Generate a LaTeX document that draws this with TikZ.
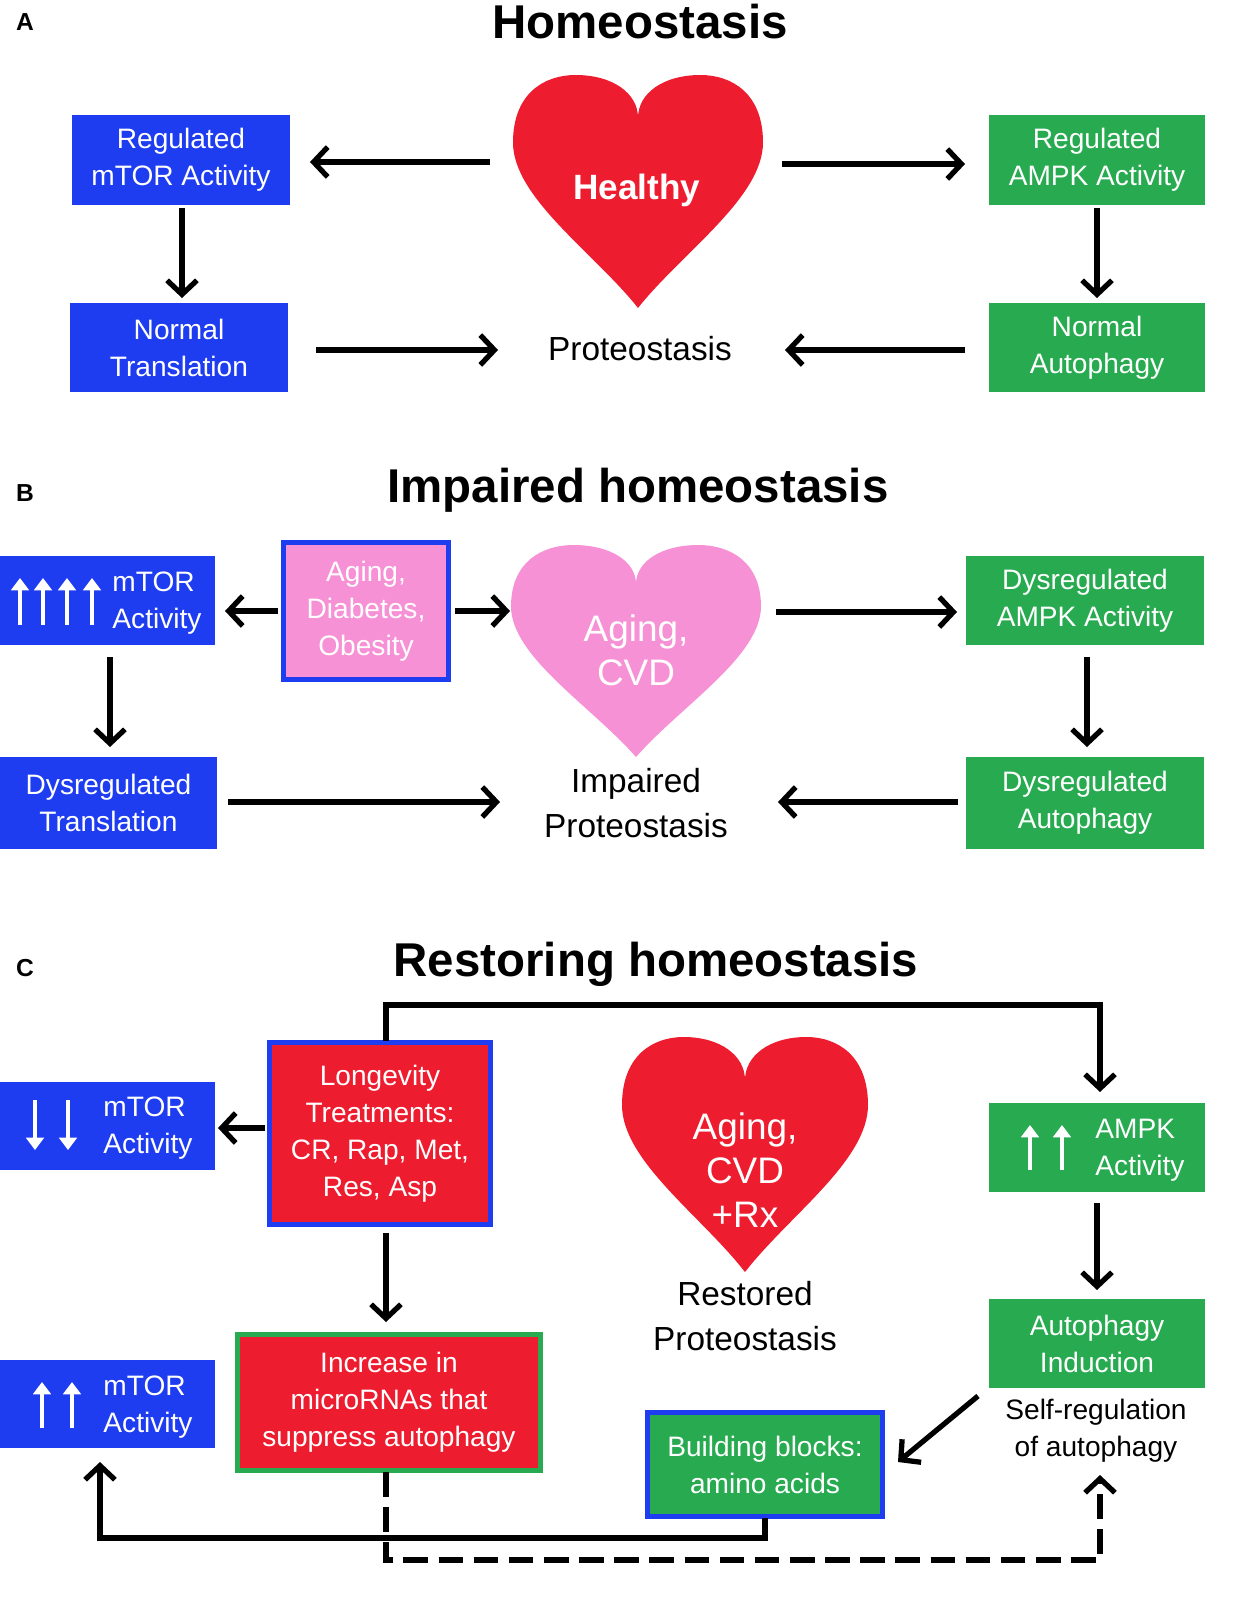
\documentclass[tikz,border=0pt]{standalone}
\usepackage{fontspec}
\setmainfont{Liberation Sans}
\usetikzlibrary{arrows.meta}
\definecolor{bblue}{RGB}{30,60,240}
\definecolor{bgreen}{RGB}{40,170,80}
\definecolor{bred}{RGB}{237,28,46}
\definecolor{bpink}{RGB}{247,145,214}
\tikzset{
 box/.style={rectangle,inner sep=0pt,align=center,text=white,font=\fontsize{16}{21}\selectfont},
 bx/.style={box,fill=bblue},
 gx/.style={box,fill=bgreen},
 arr/.style={line width=3pt,-{Straight Barb[length=8pt,width=17pt,line width=3pt]}},
 warr/.style={white,line width=2.6pt,-{Triangle[length=7pt,width=10pt]}},
 ttl/.style={font=\bfseries\fontsize{27}{30}\selectfont},
 lab/.style={font=\bfseries\fontsize{14}{16}\selectfont},
 ptxt/.style={align=center,font=\fontsize{19}{26}\selectfont},
 htxt/.style={align=center,text=white,font=\fontsize{21}{25}\selectfont},
}
\newcommand\heartpath{(0,1.9) .. controls (-0.35,1.45) and (-1,1.0) .. (-1,0.55) .. controls (-1,0.15) and (-0.75,0) .. (-0.5,0) .. controls (-0.2,0) and (0,0.15) .. (0,0.35) .. controls (0,0.15) and (0.2,0) .. (0.5,0) .. controls (0.75,0) and (1,0.15) .. (1,0.55) .. controls (1,1.0) and (0.35,1.45) .. (0,1.9) -- cycle}
\begin{document}
\begin{tikzpicture}[x=0.02cm,y=-0.02cm]
\useasboundingbox (0,0) rectangle (1245,1617);
% ---------- A
\node[lab] (la) at (25,22) {A};
\node[ttl] (ta) at (640,22) {Homeostasis};
\begin{scope}[shift={(638,75)},xscale=125,yscale=122.6]
\fill[bred] \heartpath;
\end{scope}
\node[htxt,font=\bfseries\fontsize{20}{24}\selectfont] (hA) at (637,190) {Healthy};
\node[bx,minimum width=4.36cm,minimum height=1.8cm] (a1) at (181,160) {Regulated\\mTOR Activity};
\node[bx,minimum width=4.36cm,minimum height=1.78cm] (a2) at (179,347.5) {Normal\\Translation};
\node[gx,minimum width=4.32cm,minimum height=1.8cm] (a3) at (1097,160) {Regulated\\AMPK Activity};
\node[gx,minimum width=4.32cm,minimum height=1.78cm] (a4) at (1097,347.5) {Normal\\Autophagy};
\node[ptxt] (pA) at (640,349) {Proteostasis};
\coordinate (hAl) at (490,162); \coordinate (hAr) at (782,164);
\coordinate (a1e) at (310,162); \coordinate (a3e) at (965,164);
\draw[arr] (hAl) -- (a1e);
\draw[arr] (hAr) -- (a3e);
\coordinate (a1s) at (182,208); \coordinate (a2n) at (182,298);
\coordinate (a3s) at (1097,208); \coordinate (a4n) at (1097,298);
\draw[arr] (a1s) -- (a2n);
\draw[arr] (a3s) -- (a4n);
\coordinate (a2e) at (316,350); \coordinate (pAw) at (498,350);
\coordinate (a4w) at (965,350); \coordinate (pAe) at (785,350);
\draw[arr] (a2e) -- (pAw);
\draw[arr] (a4w) -- (pAe);
% ---------- B
\node[lab] (lb) at (25,493) {B};
\node[ttl] (tb) at (638,490) {Impaired homeostasis};
\begin{scope}[shift={(636,545)},xscale=125,yscale=111.6]
\fill[bpink] \heartpath;
\end{scope}
\node[htxt] (hB) at (636,650) {Aging,\\CVD};
\node[bx,minimum width=4.3cm,minimum height=1.78cm] (b1) at (107.5,600.5) {};
\foreach \xx in {20,43,67,92} \draw[warr] (\xx,625) -- (\xx,578);
\node[box,align=left] (b1t) at (157,603) {mTOR\\Activity};
\node[box,fill=bpink,draw=bblue,line width=2.6pt,minimum width=3.3cm,minimum height=2.74cm] (bp) at (366,611) {Aging,\\Diabetes,\\Obesity};
\node[gx,minimum width=4.76cm,minimum height=1.78cm] (b3) at (1085,600.5) {Dysregulated\\AMPK Activity};
\node[bx,minimum width=4.34cm,minimum height=1.84cm] (b4) at (108.5,803) {Dysregulated\\Translation};
\node[gx,minimum width=4.76cm,minimum height=1.84cm] (b5) at (1085,803) {Dysregulated\\Autophagy};
\node[ptxt] (pB) at (636,803) {Impaired\\Proteostasis};
\coordinate (bpw) at (278,611); \coordinate (b1e) at (225,611);
\coordinate (bpe) at (455,611); \coordinate (hBw) at (510,611);
\coordinate (hBe) at (776,612); \coordinate (b3w) at (957,612);
\draw[arr] (bpw) -- (b1e);
\draw[arr] (bpe) -- (hBw);
\draw[arr] (hBe) -- (b3w);
\coordinate (b1s) at (110,657); \coordinate (b4n) at (110,747);
\coordinate (b3s) at (1087,657); \coordinate (b5n) at (1087,747);
\draw[arr] (b1s) -- (b4n);
\draw[arr] (b3s) -- (b5n);
\coordinate (b4e) at (228,802); \coordinate (pBw) at (500,802);
\coordinate (b5w) at (958,802); \coordinate (pBe) at (778,802);
\draw[arr] (b4e) -- (pBw);
\draw[arr] (b5w) -- (pBe);
% ---------- C
\node[lab] (lc) at (25,968) {C};
\node[ttl] (tc) at (656,964) {Restoring homeostasis};
\begin{scope}[shift={(745,1037)},xscale=123,yscale=123.7]
\fill[bred] \heartpath;
\end{scope}
\node[htxt] (hC) at (745,1170) {Aging,\\CVD\\+Rx};
\node[ptxt] (pC) at (745,1316) {Restored\\Proteostasis};
\node[bx,minimum width=4.3cm,minimum height=1.76cm] (c1) at (107.5,1126) {};
\foreach \xx in {35,68} \draw[warr] (\xx,1100) -- (\xx,1150);
\node[box,align=left] (c1t) at (148,1128) {mTOR\\Activity};
\node[box,fill=bred,draw=bblue,line width=2.6pt,minimum width=4.42cm,minimum height=3.64cm] (lt) at (380,1133.5) {Longevity\\Treatments:\\CR, Rap, Met,\\Res, Asp};
\node[gx,minimum width=4.32cm,minimum height=1.78cm] (c3) at (1097,1147.5) {};
\foreach \xx in {1030,1062} \draw[warr] (\xx,1170) -- (\xx,1125);
\node[box,align=left] (c3t) at (1140,1150) {AMPK\\Activity};
\node[gx,minimum width=4.32cm,minimum height=1.78cm] (c4) at (1097,1343.5) {Autophagy\\Induction};
\node[ptxt,font=\fontsize{16}{21}\selectfont] (sr) at (1096,1431) {Self-regulation\\of autophagy};
\node[bx,minimum width=4.3cm,minimum height=1.76cm] (c5) at (107.5,1404) {};
\foreach \xx in {42,72} \draw[warr] (\xx,1428) -- (\xx,1382);
\node[box,align=left] (c5t) at (148,1407) {mTOR\\Activity};
\node[box,fill=bred,draw=bgreen,line width=2.6pt,minimum width=6.06cm,minimum height=2.72cm] (mi) at (389,1402.5) {Increase in\\microRNAs that\\suppress autophagy};
\node[box,fill=bgreen,draw=bblue,line width=2.6pt,minimum width=4.7cm,minimum height=2.08cm] (bb) at (765,1464.5) {Building blocks:\\amino acids};
\coordinate (ltw) at (265,1128); \coordinate (c1e) at (218,1128);
\draw[arr] (ltw) -- (c1e);
\coordinate (lts) at (386,1233); \coordinate (min) at (386,1322);
\draw[arr] (lts) -- (min);
\coordinate (ltn) at (386,1041); \coordinate (k1) at (386,1005); \coordinate (k2) at (1100,1005); \coordinate (c3n) at (1100,1092);
\draw[arr] (ltn) -- (k1) -- (k2) -- (c3n);
\coordinate (c3s) at (1097,1203); \coordinate (c4n) at (1097,1290);
\draw[arr] (c3s) -- (c4n);
\coordinate (c4sw) at (978,1396); \coordinate (bbe) at (898,1462);
\draw[arr] (c4sw) -- (bbe);
\coordinate (bbs) at (765,1518); \coordinate (s1) at (765,1538); \coordinate (s2) at (100,1538); \coordinate (c5s) at (100,1462);
\draw[arr] (bbs) -- (s1) -- (s2) -- (c5s);
\coordinate (mis) at (386,1472); \coordinate (d1) at (386,1560); \coordinate (d2) at (1100,1560); \coordinate (srs) at (1100,1475);
\draw[arr,dash pattern=on 14pt off 6pt] (mis) -- (d1) -- (d2) -- (srs);
\end{tikzpicture}
\end{document}
